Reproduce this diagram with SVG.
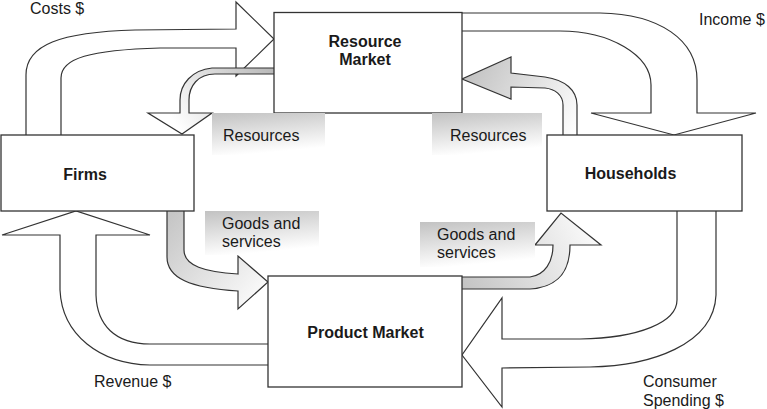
<svg xmlns="http://www.w3.org/2000/svg" width="767" height="409" viewBox="0 0 767 409">
<style>
.ar{stroke:#333;stroke-width:1.2;stroke-linejoin:miter}
.box{fill:#fff;stroke:#333;stroke-width:1.3}
.t{font-family:"Liberation Sans",Arial,sans-serif;font-size:16px;fill:#1a1a1a}
.b{font-weight:bold}
</style>
<defs>
<linearGradient id="lbl" x1="0" y1="0" x2="0.25" y2="1">
<stop offset="0" stop-color="#c2c2c2"/>
<stop offset="1" stop-color="#ffffff"/>
</linearGradient>
<linearGradient id="gResL" gradientUnits="userSpaceOnUse" x1="274" y1="70" x2="182" y2="134">
<stop offset="0" stop-color="#b8b8b8"/>
<stop offset="1" stop-color="#ffffff"/>
</linearGradient>
<linearGradient id="gResR" gradientUnits="userSpaceOnUse" x1="470" y1="75" x2="575" y2="135">
<stop offset="0" stop-color="#c4c4c4"/>
<stop offset="1" stop-color="#ffffff"/>
</linearGradient>
<linearGradient id="gGoodL" gradientUnits="userSpaceOnUse" x1="175" y1="211" x2="265" y2="290">
<stop offset="0" stop-color="#c6c6c6"/>
<stop offset="1" stop-color="#fafafa"/>
</linearGradient>
<linearGradient id="gGoodR" gradientUnits="userSpaceOnUse" x1="462" y1="283" x2="600" y2="215">
<stop offset="0" stop-color="#c4c4c4"/>
<stop offset="1" stop-color="#ffffff"/>
</linearGradient>
</defs>

<g id="connectors">
<path id="costs" class="ar" fill="#fff" d="M26,135 L26,75 C26,45 60,32 135,30 L236,29 L236,2 L274,39 L236,76 L236,48 L160,48 C90,50 61,58 61,78 L61,135"/>
<path id="income" class="ar" fill="#fff" d="M462,13 L600,13 C660,14 697,40 697,80 L697,113 L756,113 L674,135 L591,113 L651,113 L651,85 C651,55 610,31 560,31 L462,31"/>
<path id="revenue" class="ar" fill="#fff" d="M268,365 L150,365 C100,364 62,335 60,290 L60,235 L2,235 L76,211 L150,235 L96,235 L96,295 C97,325 115,344 150,344 L268,344"/>
<path id="spending" class="ar" fill="#fff" d="M677,211 L677,300 C677,322 640,338 580,339 L502,339 L502,298 L462,355 L502,407 L502,368 L590,367 C650,366 714,345 716,295 L716,211"/>
<path id="resL" class="ar" fill="url(#gResL)" d="M274,68 L212,68 C192,70 180,84 180,100 L180,113 L148,113 L182,134 L212,113 L189,113 L189,100 C189,86 198,74 215,74 L274,74"/>
<path id="resR" class="ar" fill="url(#gResR)" d="M577,135 L577,105 C577,90 565,80 545,77 L511,73 L511,57 L462,79 L511,99 L511,87 L545,88 C555,89 563,95 563,105 L563,135"/>
<path id="goodL" class="ar" fill="url(#gGoodL)" d="M167,211 L167,257 C167,278 190,288 238,291 L238,309 L268,282 L238,256 L238,274 C205,272 184,266 184,250 L184,211"/>
<path id="goodR" class="ar" fill="url(#gGoodR)" d="M462,277 L530,277 C545,275 553,262 553,245 L535,245 L561,213 L601,245 L570,245 C570,270 560,287 530,289 L462,289"/>
</g>

<g id="resource-market">
<rect class="box" x="274" y="12.5" width="188" height="100.5"/>
<text class="t b" x="365" y="47" text-anchor="middle">Resource</text>
<text class="t b" x="365" y="65" text-anchor="middle">Market</text>
</g>
<g id="firms">
<rect class="box" x="1" y="135" width="193" height="76"/>
<text class="t b" x="85" y="180" text-anchor="middle">Firms</text>
</g>
<g id="households">
<rect class="box" x="547" y="135" width="195" height="76"/>
<text class="t b" x="630.5" y="179" text-anchor="middle">Households</text>
</g>
<g id="product-market">
<rect class="box" x="268" y="276" width="194" height="111"/>
<text class="t b" x="365.5" y="338" text-anchor="middle">Product Market</text>
</g>

<g id="labels">
<rect x="212" y="113" width="113" height="42" fill="url(#lbl)"/>
<text class="t" x="223" y="141">Resources</text>
<rect x="432" y="113" width="110" height="42" fill="url(#lbl)"/>
<text class="t" x="450" y="141">Resources</text>
<rect x="205" y="211" width="114" height="44" fill="url(#lbl)"/>
<text class="t" x="222" y="229">Goods and</text>
<text class="t" x="222" y="247">services</text>
<rect x="420" y="222" width="115" height="45" fill="url(#lbl)"/>
<text class="t" x="437" y="240">Goods and</text>
<text class="t" x="437" y="258">services</text>
<text class="t" x="30" y="14">Costs $</text>
<text class="t" x="699" y="25">Income $</text>
<text class="t" x="94" y="387">Revenue $</text>
<text class="t" x="643" y="387">Consumer</text>
<text class="t" x="643" y="406">Spending $</text>
</g>
</svg>
